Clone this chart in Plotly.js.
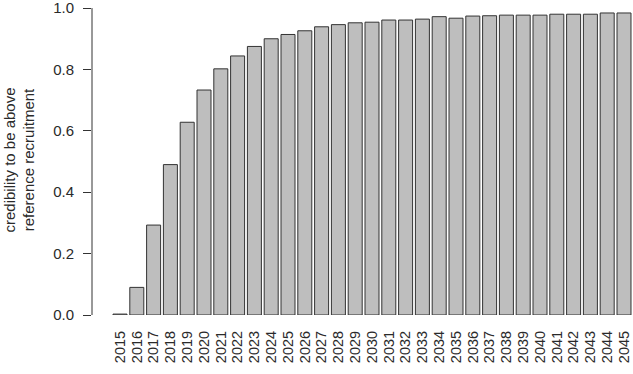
<!DOCTYPE html>
<html>
<head>
<meta charset="utf-8">
<script src="https://cdn.plot.ly/plotly-3.0.1.min.js"></script>
<style>html,body{margin:0;padding:0;background:#fff;}#chart{width:633px;height:374px;}</style>
</head>
<body>
<div id="chart"></div>
<script>
const years = [2015,2016,2017,2018,2019,2020,2021,2022,2023,2024,2025,2026,2027,2028,2029,2030,
               2031,2032,2033,2034,2035,2036,2037,2038,2039,2040,2041,2042,2043,2044,2045];
const credibility = [0.003,0.090,0.293,0.490,0.628,0.733,0.802,0.844,0.875,0.900,0.914,0.926,0.939,0.946,0.952,0.954,
                     0.961,0.961,0.964,0.972,0.967,0.974,0.975,0.977,0.977,0.977,0.980,0.980,0.980,0.984,0.984];
const yTicks = [0,0.2,0.4,0.6,0.8,1.0];
const yTitle = "credibility to be above<br>reference recruitment";

const font = {family: "Liberation Sans, Arial, sans-serif", size: 14.5, color: "#2a2a2a"};
const yfont = {family: "Liberation Sans, Arial, sans-serif", size: 15, color: "#2a2a2a"};

Plotly.newPlot("chart", [{
  type: "bar",
  x: years,
  y: credibility,
  marker: {color: "#bebebe", line: {color: "#333", width: 1}},
  hoverinfo: "skip"
}], {
  width: 633, height: 374,
  margin: {l: 92, r: 0, t: 5, b: 59},
  paper_bgcolor: "#fff", plot_bgcolor: "#fff",
  bargap: 0.1667,
  showlegend: false,
  font: font,
  xaxis: {
    range: [2013.333, 2045.536],
    tickmode: "array", tickvals: years, ticktext: years.map(String),
    tickangle: -90, ticks: "", showline: false, showgrid: false, zeroline: false,
    tickfont: font, ticklabelstandoff: 12, ticklabeloverflow: "allow"
  },
  yaxis: {
    range: [0, 1.01], tickmode: "array", tickvals: yTicks, ticktext: yTicks.map(v => v.toFixed(1)),
    ticks: "outside", ticklen: 8, tickcolor: "#333", tickwidth: 1,
    showline: false, ticklabeloverflow: "allow",
    showgrid: false, zeroline: false, tickfont: yfont, ticklabelstandoff: 6,
    title: {text: yTitle, font: yfont, standoff: 14}
  },
  shapes: [{
    type: "line", xref: "paper", yref: "y",
    x0: 0, x1: 0, y0: yTicks[0], y1: yTicks[yTicks.length - 1],
    line: {color: "#333", width: 1}
  }]
}, {displayModeBar: false, staticPlot: true});
</script>
</body>
</html>
